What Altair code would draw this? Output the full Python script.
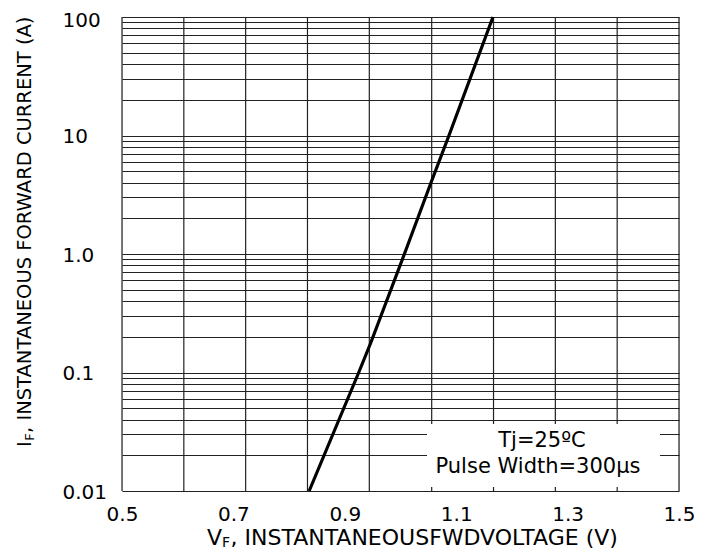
import altair as alt
import pandas as pd

# Forward characteristic (V, A)
vf = [0.836, 0.925, 0.947, 1.007, 1.053, 1.087, 1.166]
i_f = [0.01, 0.1, 0.18, 1.0, 3.8, 10, 100]

# Axis values
x_label_values = [0.5, 0.7, 0.9, 1.1, 1.3, 1.5]
x_grid_values = [0.5, 0.611, 0.722, 0.833, 0.944, 1.056, 1.167, 1.278, 1.389, 1.5]
y_label_values = [0.01, 0.1, 1, 10, 100]
y_label_texts = ["0.01", "0.1", "1.0", "10", "100"]
y_grid_values = [m * d for d in [0.01, 0.1, 1, 10] for m in range(1, 10)] + [100]

legend_lines = ["Tj=25ºC", "Pulse Width=300μs"]

FONT = "DejaVu Sans"
GRID = "#222222"

label_expr = " : ".join(
    f"abs(datum.value - {v}) < {v * 1e-6} ? '{t}'" for v, t in zip(y_label_values, y_label_texts)
) + " : ''"

xs = alt.Scale(domain=[0.5, 1.5], nice=False, zero=False)
ys = alt.Scale(type="log", domain=[0.01, 100], nice=False)

x_axis = alt.Axis(values=x_label_values, format=".1f", grid=False, ticks=False, tickSize=0,
                  domain=False, labelFontSize=20, labelPadding=13, labelFlush=False,
                  labelColor="black", title=None, labelFont=FONT)
y_axis = alt.Axis(values=y_grid_values, labelExpr=label_expr, grid=True, gridColor=GRID,
                  gridWidth=1.2, gridOpacity=1, ticks=False, tickSize=0, domain=False,
                  labelFontSize=20, labelAlign="left", labelBaseline="middle", labelPadding=60,
                  labelOffset={"condition": {"test": "datum.value >= 99", "value": 3}, "value": 1},
                  labelFlush=False, labelColor="black", title=None,
                  labelFont=FONT)

vgrid = alt.Chart(pd.DataFrame({"gx": x_grid_values})).mark_rule(
    color=GRID, strokeWidth=1.2
).encode(x=alt.X("gx:Q", scale=xs, axis=x_axis))

curve = alt.Chart(pd.DataFrame({"vf": vf, "current": i_f})).mark_line(
    color="black", strokeWidth=3.2
).encode(
    x=alt.X("vf:Q", scale=xs, axis=x_axis),
    y=alt.Y("current:Q", scale=ys, axis=y_axis),
)

one = pd.DataFrame({"a": [0]})

box = alt.Chart(one).mark_rect(color="white").encode(
    x=alt.value(305), x2=alt.value(538), y=alt.value(407), y2=alt.value(470)
)

leg1 = alt.Chart(one).mark_text(text=legend_lines[0], font=FONT, fontSize=21, color="black",
                                align="center", baseline="middle").encode(
    x=alt.value(420), y=alt.value(424))
leg2 = alt.Chart(one).mark_text(text=legend_lines[1], font=FONT, fontSize=21, color="black",
                                align="center", baseline="middle").encode(
    x=alt.value(416), y=alt.value(450))

# Y title (rotated) with subscript F
yt1 = alt.Chart(one).mark_text(text="I", font=FONT, fontSize=19.5, angle=270, align="left",
                               baseline="middle", color="black").encode(
    x=alt.value(-97), y=alt.value(430))
yt2 = alt.Chart(one).mark_text(text="F", font=FONT, fontSize=13, angle=270, align="left",
                               baseline="middle", color="black").encode(
    x=alt.value(-92), y=alt.value(423.8))
yt3 = alt.Chart(one).mark_text(text=", INSTANTANEOUS FORWARD CURRENT (A)", font=FONT,
                               fontSize=19.5, angle=270, align="left", baseline="middle",
                               color="black").encode(
    x=alt.value(-97), y=alt.value(416))

# X title with subscript F
xt1 = alt.Chart(one).mark_text(text="V", font=FONT, fontSize=22, align="left",
                               baseline="middle", color="black").encode(
    x=alt.value(85), y=alt.value(520.5))
xt2 = alt.Chart(one).mark_text(text="F", font=FONT, fontSize=14, align="left",
                               baseline="middle", color="black").encode(
    x=alt.value(100), y=alt.value(525.5))
xt3 = alt.Chart(one).mark_text(text=", INSTANTANEOUSFWDVOLTAGE (V)", font=FONT, fontSize=22,
                               align="left", baseline="middle", color="black").encode(
    x=alt.value(108.5), y=alt.value(520.5))

chart = alt.layer(vgrid, curve, box, leg1, leg2, yt1, yt2, yt3, xt1, xt2, xt3).properties(
    width=557, height=474,
    padding={"left": 114, "top": 9, "right": 19, "bottom": 58},
    autosize=alt.AutoSizeParams(type="none"),
    background="white",
).configure_view(stroke=GRID, strokeWidth=1.5).configure(font=FONT)

chart.save("out.html", embed_options={"renderer": "svg", "actions": False})
